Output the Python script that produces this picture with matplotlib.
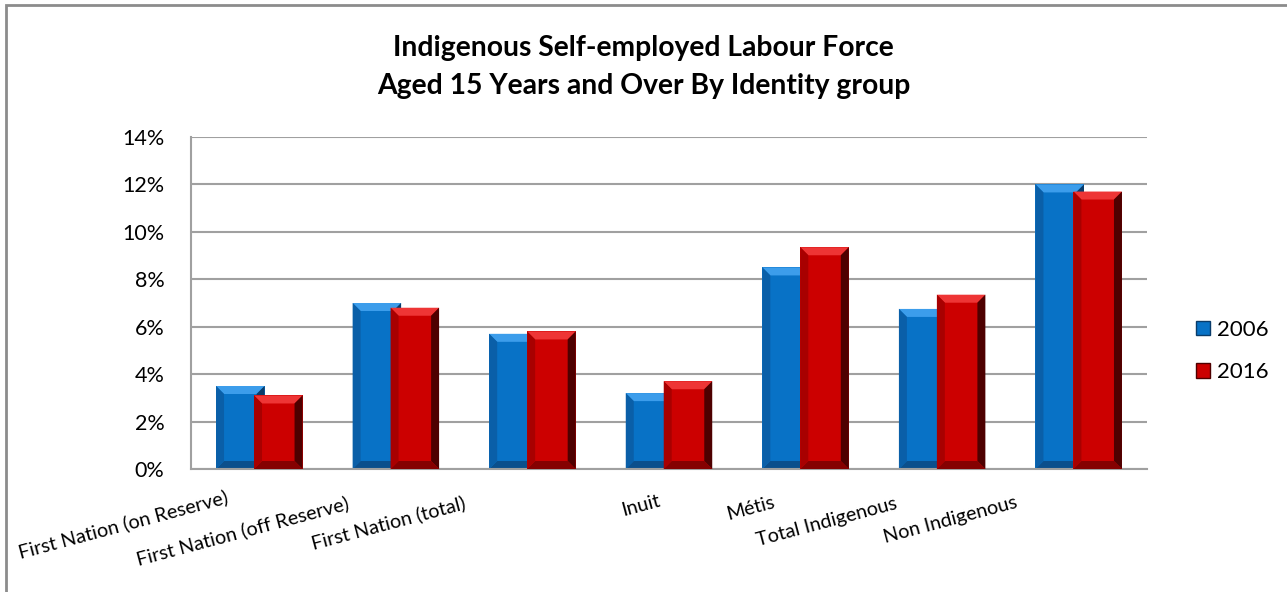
import matplotlib.pyplot as plt
from matplotlib.patches import Polygon, Rectangle, Patch
from matplotlib.transforms import blended_transform_factory, offset_copy
from matplotlib.ticker import FuncFormatter

plt.rcParams['font.family'] = ['Lato', 'DejaVu Sans']

categories = ['First Nation (on Reserve)', 'First Nation (off Reserve)',
              'First Nation (total)', 'Inuit', 'Métis', 'Total Indigenous',
              'Non Indigenous']
y2006 = [3.5, 7.0, 5.7, 3.2, 8.5, 6.75, 12.0]
y2016 = [3.1, 6.8, 5.8, 3.7, 9.35, 7.35, 11.7]
series = ['2006', '2016']

# main, top bevel, right bevel, bottom bevel, left bevel
blue = ['#0872C6', '#3C9DEB', '#0A3C6A', '#0B4F8C', '#0A5FA8']
red = ['#CC0000', '#EE3535', '#4E0000', '#850000', '#A80000']

fig = plt.figure(figsize=(12.87, 5.92), dpi=100)
ax = fig.add_axes([191/1287, 123/592, 956/1287, 332/592])


def bevel(ax, bars, cols, z):
    # fake 3d bevel on each bar, sizes in pixels converted to data units
    px = 1.0 / 137
    py = 14.0 / 332
    for b in bars:
        b.set_zorder(z)
        x0, w, h = b.get_x(), b.get_width(), b.get_height()
        x1 = x0 + w
        bx, by = 8 * px, min(8 * py, h / 3)
        ax.add_patch(Polygon([(x0, h), (x1, h), (x1 - bx, h - by), (x0 + bx, h - by)],
                             color=cols[1], lw=0, zorder=z + 0.5))
        ax.add_patch(Polygon([(x1, h), (x1, 0), (x1 - bx, by), (x1 - bx, h - by)],
                             color=cols[2], lw=0, zorder=z + 0.5))
        ax.add_patch(Polygon([(x0, 0), (x1, 0), (x1 - bx, by), (x0 + bx, by)],
                             color=cols[3], lw=0, zorder=z + 0.5))
        ax.add_patch(Polygon([(x0, 0), (x0, h), (x0 + bx, h - by), (x0 + bx, by)],
                             color=cols[4], lw=0, zorder=z + 0.5))


xs = range(len(categories))
w = 0.355
b1 = ax.bar([x - 0.139 for x in xs], y2006, w, color=blue[0])
bevel(ax, b1, blue, 2)
b2 = ax.bar([x + 0.139 for x in xs], y2016, w, color=red[0])
bevel(ax, b2, red, 4)

ax.set_xlim(-0.5, len(categories) - 0.5)
ax.set_ylim(0, 14)
ax.set_yticks(range(0, 15, 2))
ax.yaxis.set_major_formatter(FuncFormatter(lambda v, p: f'{v:.0f}%'))
ax.tick_params(axis='y', length=0, labelsize=15.5, pad=19)
ax.set_xticks([])
ax.grid(axis='y', color='#A0A0A0', lw=1.5, zorder=0)
for s in ['top', 'right']:
    ax.spines[s].set_visible(False)
for s in ['left', 'bottom']:
    ax.spines[s].set_color('#A0A0A0')
    ax.spines[s].set_linewidth(1.5)

# category labels, rotated like the original
dx = [-136, -153, -144, -28, -55, -115, -128]
dy = [-56, -62, -54, -37, -39, -53, -51]
base = blended_transform_factory(ax.transData, ax.transAxes)
for i, lab in enumerate(categories):
    tr = offset_copy(base, fig=fig, x=dx[i], y=dy[i], units='dots')
    ax.text(i, 0, lab, transform=tr, rotation=15, rotation_mode='anchor',
            ha='center', va='center', fontsize=14.3)

fig.text(0.5, 1 - 48/592, 'Indigenous Self-employed Labour Force',
         ha='center', va='center', fontsize=20.3, fontweight='bold')
fig.text(0.5, 1 - 86/592, 'Aged 15 Years and Over By Identity group',
         ha='center', va='center', fontsize=20.3, fontweight='bold')

handles = [Patch(facecolor=blue[0], edgecolor=blue[2], lw=1),
           Patch(facecolor=red[0], edgecolor=red[2], lw=1)]
fig.legend(handles, series, loc='center left', bbox_to_anchor=(1176/1287, 1 - 351/592),
           frameon=False, fontsize=16, handlelength=0.65, handleheight=0.65,
           handletextpad=0.3, labelspacing=1.0)

fig.patches.append(Rectangle((6/1287, -0.1), 1.5, 1.1 - 4.5/592, transform=fig.transFigure,
                             fill=False, edgecolor='#8C8C8C', lw=2))

fig.savefig('out.png', dpi=100)
